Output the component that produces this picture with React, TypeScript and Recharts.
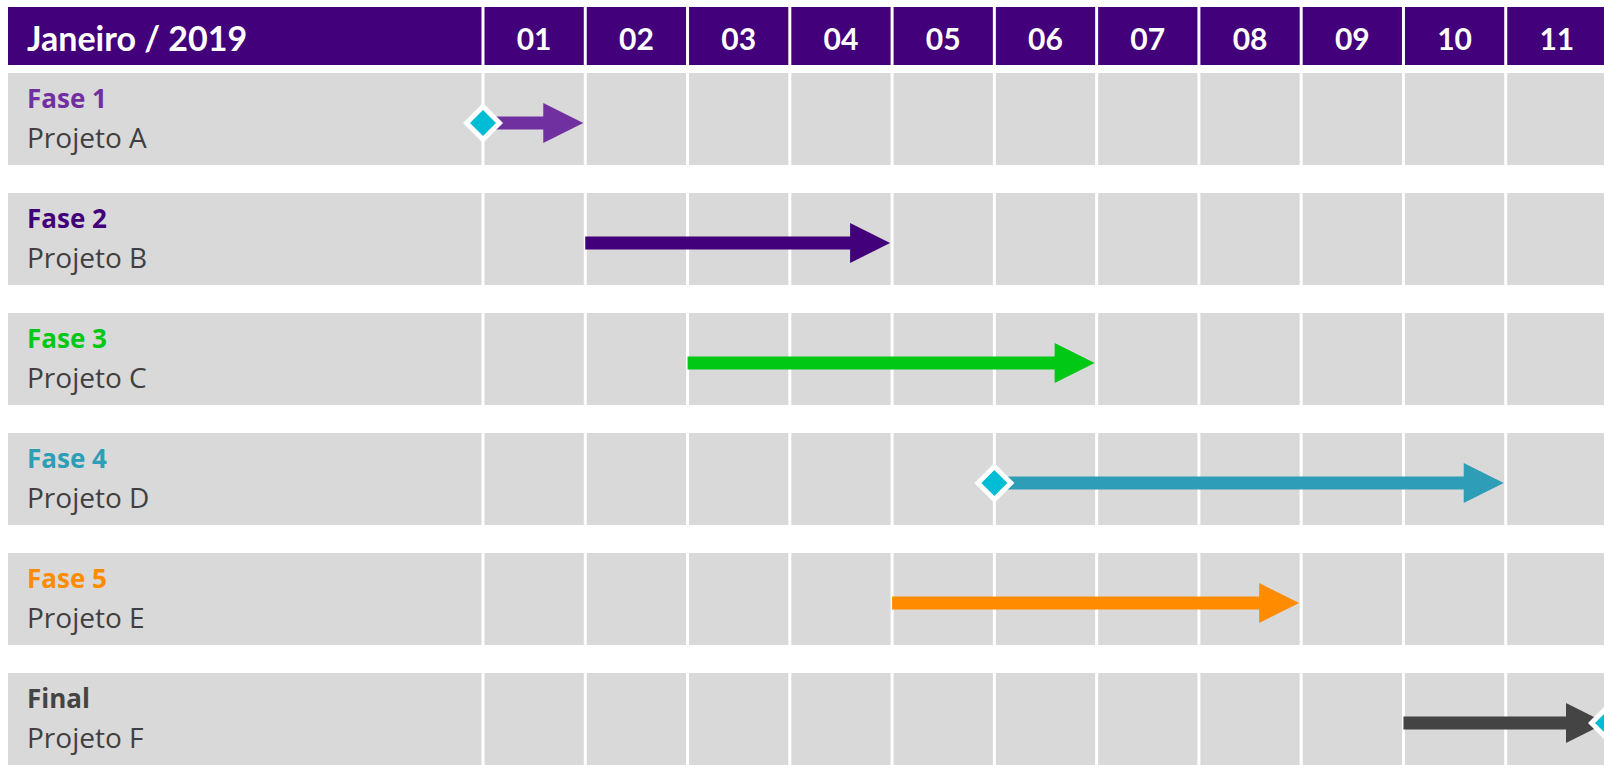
import { BarChart, Bar, XAxis, YAxis } from "recharts";

// Cronograma – Janeiro / 2019
const title = "Janeiro / 2019";
const days = ["01", "02", "03", "04", "05", "06", "07", "08", "09", "10", "11"];
const fases = ["Fase 1", "Fase 2", "Fase 3", "Fase 4", "Fase 5", "Final"];
const projetos = ["Projeto A", "Projeto B", "Projeto C", "Projeto D", "Projeto E", "Projeto F"];
const starts = [0, 1, 2, 5, 4, 9];
const ends = [1, 4, 6, 10, 8, 11];
const milestones: (number | null)[] = [0, null, null, 5, null, 11];
const colors = ["#7030A0", "#42007A", "#00C814", "#2E9DB6", "#FF8C00", "#444444"];

const HEADER = "#42007A";
const CELL = "#D9D9D9";
const DIAMOND = "#00BCD4";

const CHART_W = 1608;
const CHART_H = 779;
const LEFT = 8;
const LABEL_W = 475;
const PLOT_W = CHART_W - LEFT - LABEL_W;

const rows = fases.map((fase, i) => ({
  fase,
  projeto: projetos[i],
  span: [starts[i], ends[i]],
  milestone: milestones[i],
  color: colors[i],
}));

// header cells (one per tick) + title cell on the first one
const HeaderTick = (props: any) => {
  const { x, payload } = props;
  const i = Math.floor(payload.value);
  const w = PLOT_W / days.length;
  return (
    <g>
      {i === 0 && (
        <g>
          <rect x={LEFT} y={7} width={LABEL_W - 1.5} height={58} fill={HEADER} />
          <text x={27} y={51} fill="#fff" fontFamily="Lato" fontWeight={700} fontSize={34}>
            {title}
          </text>
        </g>
      )}
      <rect x={x - w / 2 + 1.5} y={7} width={w - 3} height={58} fill={HEADER} />
      <text x={x} y={50} textAnchor="middle" fill="#fff" fontFamily="Lato" fontWeight={700} fontSize={30}>
        {days[i]}
      </text>
    </g>
  );
};

// row labels (text only, the cell is drawn with the row background)
const RowLabel = (props: any) => {
  const { y, payload } = props;
  const i = fases.indexOf(payload.value);
  return (
    <g>
      <text x={27} y={y - 11} fill={colors[i]} fontFamily="Open Sans" fontWeight={700} fontSize={26}>
        {payload.value}
      </text>
      <text x={27} y={y + 29} fill="#404040" fontFamily="Open Sans" fontSize={28}>
        {projetos[i]}
      </text>
    </g>
  );
};

// gray cells behind each row, label cell included
const RowCells = (props: any) => {
  const { x, y, width, height } = props;
  const w = width / days.length;
  return (
    <g>
      <rect x={LEFT} y={y} width={x - LEFT - 1.5} height={height} fill={CELL} />
      {days.map((d, i) => (
        <rect key={d} x={x + i * w + 1.5} y={y} width={w - 3} height={height} fill={CELL} />
      ))}
    </g>
  );
};

const ArrowShape = (props: any) => {
  const { x, y, width, height, payload } = props;
  const cy = y + height / 2 + 4;
  const x0 = x;
  const x1 = x + width - 2;
  const headL = 40;
  const headH = 20;
  const shaft = 6.5;
  const hb = x1 - headL;
  const d = `M${x0},${cy - shaft} L${hb},${cy - shaft} L${hb},${cy - headH} L${x1},${cy} L${hb},${cy + headH} L${hb},${cy + shaft} L${x0},${cy + shaft} Z`;
  let diamond = null;
  if (payload.milestone != null) {
    const dx = payload.milestone === payload.span[0] ? x : x + width;
    const o = 20;
    const n = 13;
    diamond = (
      <g>
        <path d={`M${dx - o},${cy} L${dx},${cy - o} L${dx + o},${cy} L${dx},${cy + o} Z`} fill="#fff" />
        <path d={`M${dx - n},${cy} L${dx},${cy - n} L${dx + n},${cy} L${dx},${cy + n} Z`} fill={DIAMOND} />
      </g>
    );
  }
  return (
    <g>
      <path d={d} fill={payload.color} />
      {diamond}
    </g>
  );
};

export default function App() {
  return (
    <div
      style={{
        position: "absolute",
        left: 0,
        top: 0,
        width: 1604,
        height: 765,
        overflow: "hidden",
        background: "#fff",
      }}
    >
      <BarChart
        width={CHART_W}
        height={CHART_H}
        data={rows}
        layout="vertical"
        margin={{ top: 0, right: 0, bottom: 0, left: LEFT }}
      >
        <XAxis
          type="number"
          orientation="top"
          domain={[0, days.length]}
          ticks={days.map((_, i) => i + 0.5)}
          interval={0}
          height={59}
          axisLine={false}
          tickLine={false}
          tick={<HeaderTick />}
        />
        <YAxis
          type="category"
          dataKey="fase"
          width={LABEL_W}
          interval={0}
          axisLine={false}
          tickLine={false}
          tick={<RowLabel />}
        />
        <Bar
          dataKey="span"
          barSize={92}
          background={RowCells}
          shape={ArrowShape}
          isAnimationActive={false}
        />
      </BarChart>
    </div>
  );
}
